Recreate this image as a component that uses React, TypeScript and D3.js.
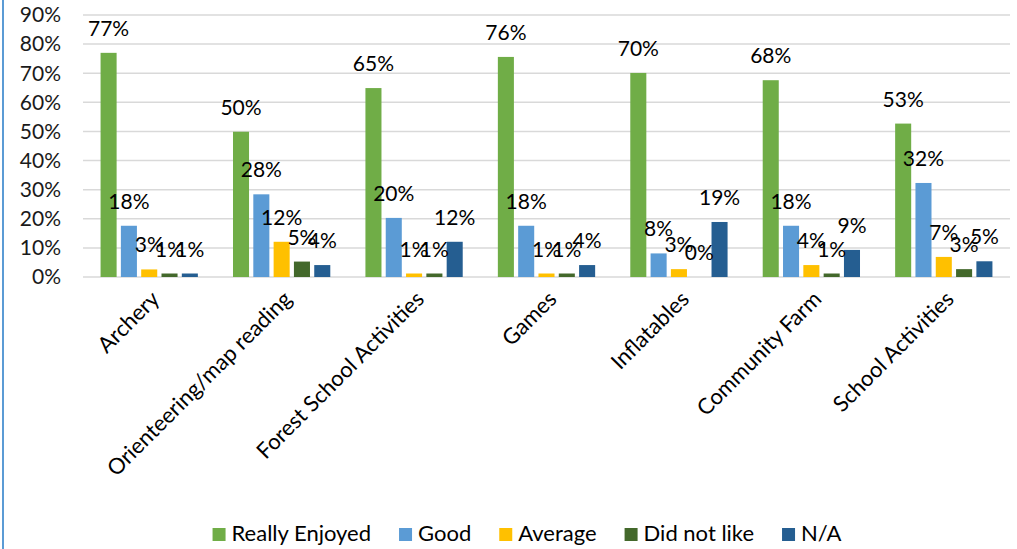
import { useEffect, useRef } from "react"
import * as d3 from "d3"

const categories = [
  "Archery",
  "Orienteering/map reading",
  "Forest School Activities",
  "Games",
  "Inflatables",
  "Community Farm",
  "School Activities",
]
const seriesNames = ["Really Enjoyed", "Good", "Average", "Did not like", "N/A"]
const seriesColors = ["#70AD47", "#5B9BD5", "#FFC000", "#43682B", "#255E91"]

const reallyEnjoyed = [0.77, 0.499, 0.649, 0.756, 0.701, 0.676, 0.527]
const good = [0.176, 0.284, 0.203, 0.176, 0.081, 0.176, 0.323]
const average = [0.026, 0.121, 0.012, 0.012, 0.027, 0.041, 0.069]
const didNotLike = [0.012, 0.053, 0.012, 0.012, 0.0, 0.012, 0.027]
const notApplicable = [0.012, 0.041, 0.121, 0.041, 0.189, 0.093, 0.054]

const yTicks = [0, 0.1, 0.2, 0.3, 0.4, 0.5, 0.6, 0.7, 0.8, 0.9]

const W = 1017
const H = 549
const FONT = "Lato, 'Open Sans', sans-serif"

export default function App() {
  const svgRef = useRef<SVGSVGElement>(null)

  useEffect(() => {
    if (!svgRef.current) return
    const svg = d3.select(svgRef.current)
    svg.selectAll("*").remove()

    const allSeries = [reallyEnjoyed, good, average, didNotLike, notApplicable]
    const left = 83
    const right = 1010
    const top = 15
    const bottom = 277

    const x = d3.scaleBand().domain(categories).range([left, right])
    const xInner = d3
      .scaleBand()
      .domain(seriesNames)
      .range([0, x.bandwidth()])
      .paddingInner(0.21)
      .paddingOuter(0.865)
    const y = d3.scaleLinear().domain([0, 0.9]).range([bottom, top])
    const fmt = d3.format(".0%")

    // left border line
    svg
      .append("line")
      .attr("x1", 3)
      .attr("x2", 3)
      .attr("y1", 0)
      .attr("y2", H)
      .attr("stroke", "#5B9BD5")
      .attr("stroke-width", 2)

    // gridlines
    svg
      .append("g")
      .selectAll("line")
      .data(yTicks)
      .enter()
      .append("line")
      .attr("x1", left)
      .attr("x2", right)
      .attr("y1", (d) => y(d))
      .attr("y2", (d) => y(d))
      .attr("stroke", "#D9D9D9")
      .attr("stroke-width", 1.5)

    // y tick labels
    svg
      .append("g")
      .selectAll("text")
      .data(yTicks)
      .enter()
      .append("text")
      .attr("x", 61)
      .attr("y", (d) => y(d))
      .attr("dy", "0.35em")
      .attr("text-anchor", "end")
      .attr("font-family", FONT)
      .attr("font-size", 21)
      .attr("fill", "#1a1a1a")
      .text((d) => fmt(d))

    // bars
    const groups = svg
      .append("g")
      .selectAll("g")
      .data(categories)
      .enter()
      .append("g")
      .attr("transform", (d) => `translate(${x(d)},0)`)

    seriesNames.forEach((name, si) => {
      groups
        .append("rect")
        .attr("x", xInner(name)!)
        .attr("width", xInner.bandwidth())
        .attr("y", (_, ci) => y(allSeries[si][ci]))
        .attr("height", (_, ci) => bottom - y(allSeries[si][ci]))
        .attr("fill", seriesColors[si])
    })

    // data labels
    seriesNames.forEach((name, si) => {
      groups
        .append("text")
        .attr("x", xInner(name)! + xInner.bandwidth() / 2)
        .attr("y", (_, ci) => y(allSeries[si][ci]) - 17)
        .attr("text-anchor", "middle")
        .attr("font-family", FONT)
        .attr("font-size", 21)
        .attr("fill", "#000")
        .text((_, ci) => fmt(allSeries[si][ci]))
    })

    // category labels
    svg
      .append("g")
      .selectAll("text")
      .data(categories)
      .enter()
      .append("text")
      .attr("transform", (d) => `translate(${x(d)! + x.bandwidth() / 2 + 6},${bottom + 18}) rotate(-45)`)
      .attr("text-anchor", "end")
      .attr("dy", "0.35em")
      .attr("font-family", FONT)
      .attr("font-size", 22)
      .attr("fill", "#000")
      .text((d) => d)

    // legend
    const legend = svg.append("g")
    const items = legend
      .selectAll("g")
      .data(seriesNames)
      .enter()
      .append("g")
    items
      .append("rect")
      .attr("width", 13)
      .attr("height", 13)
      .attr("y", 528)
      .attr("fill", (_, i) => seriesColors[i])
    items
      .append("text")
      .attr("x", 19)
      .attr("y", 541)
      .attr("font-family", FONT)
      .attr("font-size", 22)
      .attr("fill", "#000")
      .text((d) => d)
    const gap = 28
    let cx = 0
    const offsets: number[] = []
    items.each(function () {
      const t = d3.select(this).select("text").node() as SVGTextElement
      offsets.push(cx)
      cx += 19 + t.getComputedTextLength() + gap
    })
    const total = cx - gap
    const start = 527 - total / 2
    items.attr("transform", (_, i) => `translate(${start + offsets[i]},0)`)
  }, [])

  return (
    <svg
      ref={svgRef}
      width={W}
      height={H}
      style={{ position: "absolute", left: 0, top: 0, background: "#fff" }}
    />
  )
}
